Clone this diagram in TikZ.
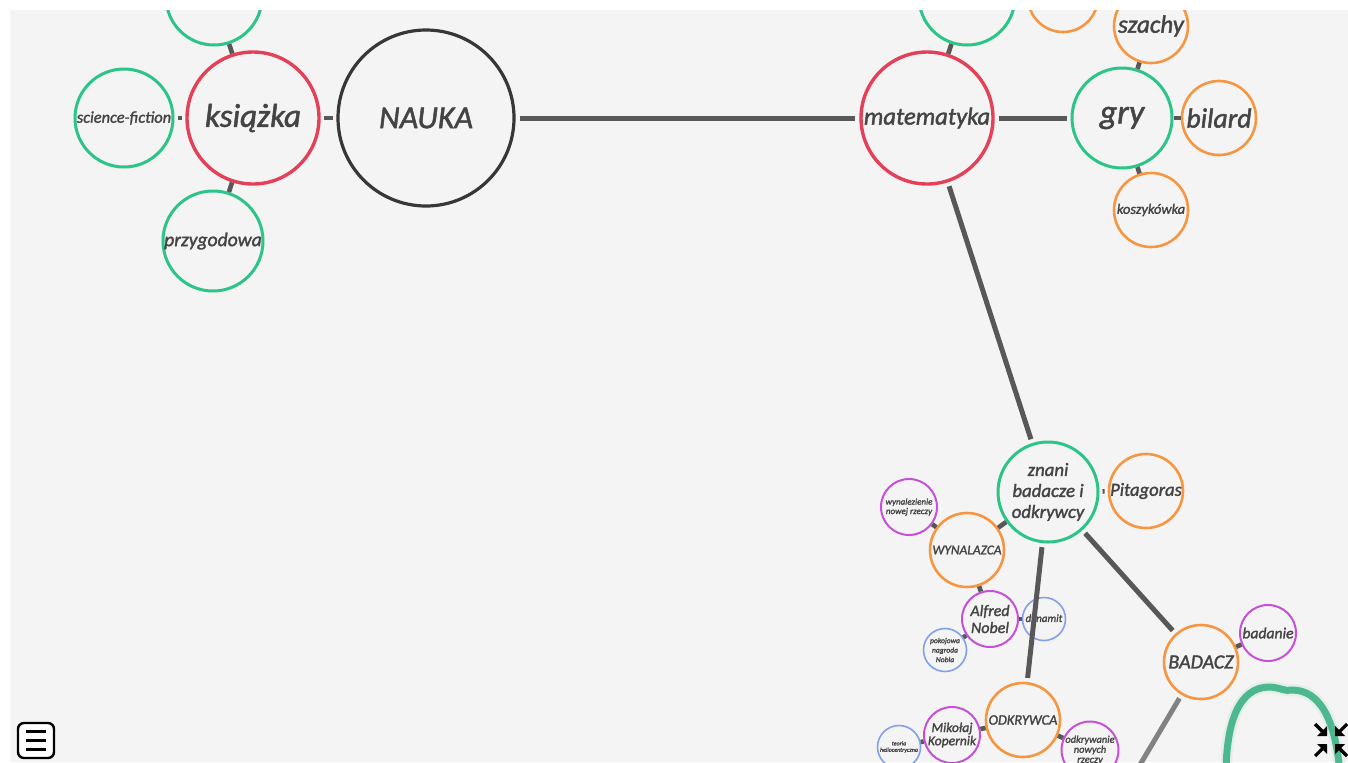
\documentclass[tikz,border=0pt]{standalone}
\usepackage{fontspec}
\setmainfont{Carlito}[ItalicFeatures={FakeBold=1.6}]
\definecolor{mapred}{RGB}{228,64,88}
\definecolor{mapgreen}{RGB}{44,196,135}
\definecolor{maporange}{RGB}{247,150,65}
\definecolor{mappurple}{RGB}{198,80,215}
\definecolor{mapblue}{RGB}{130,160,235}
\definecolor{mapdark}{RGB}{55,55,55}
\definecolor{maplink}{RGB}{88,88,88}
\definecolor{maptext}{RGB}{68,68,68}
\definecolor{mapbg}{RGB}{244,244,244}
\definecolor{mapblur}{RGB}{40,170,120}
\newcommand{\fsz}[2]{\fontsize{#1}{#2}\selectfont\itshape}

\begin{document}
\begin{tikzpicture}[x=0.5pt,y=-0.5pt,
    every node/.style={text=maptext,inner sep=0pt,align=center},
    core/.style={circle,draw=mapdark,line width=1.6pt,minimum size=88pt},
    theme/.style={circle,draw=mapred,line width=1.7pt,minimum size=66pt},
    branch/.style={circle,draw=mapgreen,line width=1.5pt,minimum size=49pt},
    item/.style={circle,draw=maporange,line width=1.3pt,minimum size=37pt},
    detail/.style={circle,draw=mappurple,line width=1pt,minimum size=28pt},
    fact/.style={circle,draw=mapblue,line width=0.8pt,minimum size=21.5pt},
    link/.style={draw=maplink,line width=2.5pt,shorten <=2pt,shorten >=2pt},
    stub/.style={draw=maplink,line width=2.3pt},
    gapstub/.style={stub,shorten <=1.5pt,shorten >=1.5pt}]
  \useasboundingbox (0,0) rectangle (1348,762);
  \fill[white] (0,0) rectangle (1348,762);
  \fill[mapbg] (10,10) rectangle (1348,762);
  \begin{scope}
    \clip (10,10) rectangle (1348,762);
    % left branch
    \node[core,font=\fsz{16}{18}] (nauka) at (426,118) {NAUKA};
    \node[theme,font=\fsz{16.5}{18}] (ksiazka) at (253,118) {książka};
    \node[branch,minimum size=48pt] (kgora) at (214,-3) {};
    \node[branch,font=\fsz{8.2}{9}] (scifi) at (124,118) {science-fiction};
    \node[branch,minimum size=50pt,font=\fsz{9.8}{11}] (przyg) at (213,241) {przygodowa};
    % right branch
    \node[theme,font=\fsz{12.3}{14}] (mat) at (927,118) {matematyka};
    \node[branch,minimum size=48pt] (mgora) at (967,-3) {};
    \node[item,minimum size=35pt] (ogora) at (1063,-3) {};
    \node[branch,minimum size=50pt,font=\fsz{17}{18}] (gry) at (1122,118) {gry};
    \node[item,font=\fsz{12.5}{14}] (szachy) at (1151,26) {szachy};
    \node[item,font=\fsz{13.9}{15}] (bilard) at (1219,118) {bilard};
    \node[item,font=\fsz{7.2}{8}] (kosz) at (1151,210) {koszykówka};
    % researchers
    \node[branch,minimum size=50pt,font=\fsz{9.4}{10.5}] (znani) at (1048,492) {znani\\badacze i\\odkrywcy};
    \node[item,font=\fsz{9.3}{10}] (pitag) at (1146,491) {Pitagoras};
    \node[item,font=\fsz{6.7}{7}] (wynal) at (967,550) {WYNALAZCA};
    \node[detail,font=\fsz{4.5}{4.7}] (wynrz) at (909,507) {wynalezienie\\nowej rzeczy};
    \node[detail,font=\fsz{8}{8.5}] (nobel) at (990,619) {Alfred\\Nobel};
    \node[fact,font=\fsz{5.5}{6}] (dynamit) at (1044,619) {dynamit};
    \node[fact,font=\fsz{3.8}{4.75}] (nagroda) at (945,650) {pokojowa\\nagroda\\Nobla};
    \node[item,font=\fsz{7.2}{8}] (odkr) at (1023,720) {ODKRYWCA};
    \node[detail,font=\fsz{6.8}{6.6}] (kopernik) at (952,735) {Mikołaj\\Kopernik};
    \node[fact,font=\fsz{3}{3.2}] (helio) at (899,747) {teoria\\heliocentryczna};
    \node[detail,font=\fsz{5.2}{5}] (odkrnow) at (1090,750) {odkrywanie\\nowych\\rzeczy};
    \node[item,font=\fsz{10}{11}] (badacz) at (1201,662) {BADACZ};
    \node[detail,font=\fsz{7.8}{8}] (badanie) at (1268,633) {badanie};
    \coordinate (dalej) at (1125,790);
    % connectors
    \draw[link] (nauka) -- (mat);
    \draw[link] (mat) -- (gry);
    \draw[link] (mat) -- (znani);
    \draw[link] (znani) -- (odkr);
    \draw[link] (znani) -- (badacz);
    \draw[link,draw=maplink!75] (badacz) -- (dalej);
    \draw[gapstub] (ksiazka) -- (nauka);
    \draw[gapstub] (ksiazka) -- (scifi);
    \draw[stub] (ksiazka) -- (kgora);
    \draw[stub] (ksiazka) -- (przyg);
    \draw[stub] (mat) -- (mgora);
    \draw[stub] (gry) -- (szachy);
    \draw[stub] (gry) -- (bilard);
    \draw[stub] (gry) -- (kosz);
    \draw[gapstub] (znani) -- (pitag);
    \draw[stub] (znani) -- (wynal);
    \draw[stub] (wynal) -- (wynrz);
    \draw[stub] (wynal) -- (nobel);
    \draw[stub] (nobel) -- (dynamit);
    \draw[stub] (nobel) -- (nagroda);
    \draw[stub] (odkr) -- (kopernik);
    \draw[stub] (kopernik) -- (helio);
    \draw[stub] (odkr) -- (odkrnow);
    \draw[stub] (badacz) -- (badanie);
    % blurred green shape
    \draw[mapblur,line width=6pt,opacity=0.08]
      (1226,775) .. controls (1226,720) and (1240,688) .. (1268,687)
      .. controls (1280,687) and (1285,692) .. (1292,690)
      .. controls (1320,690) and (1336,720) .. (1340,775);
    \draw[mapblur,line width=3.5pt,opacity=0.8]
      (1226,775) .. controls (1226,720) and (1240,688) .. (1268,687)
      .. controls (1280,687) and (1285,692) .. (1292,690)
      .. controls (1320,690) and (1336,720) .. (1340,775);
  \end{scope}
  % menu button
  \draw[black,line width=1.2pt,rounded corners=3pt,fill=white] (18,723) rectangle (54,758);
  \foreach \yy in {731,740,749}
    \draw[black,line width=1.5pt] (26,\yy) -- (46,\yy);
  % collapse button
  \foreach \sx/\sy in {-1/-1,1/-1,-1/1,1/1} {
    \fill[black] (1331+\sx*4,740+\sy*4) -- (1331+\sx*4,740+\sy*14) -- (1331+\sx*14,740+\sy*4) -- cycle;
    \draw[black,line width=1.6pt] (1331+\sx*7,740+\sy*7) -- (1331+\sx*16,740+\sy*16);
  }
\end{tikzpicture}
\end{document}
